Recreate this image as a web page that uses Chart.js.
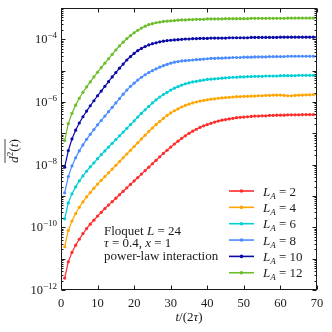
<!DOCTYPE html>
<html><head><meta charset="utf-8">
<script src="https://cdn.jsdelivr.net/npm/chart.js@4.4.0/dist/chart.umd.min.js"></script>
<style>html,body{margin:0;padding:0;background:#fff}canvas{display:block}</style>
</head><body>
<canvas id="c" width="332" height="332"></canvas>
<script>
// ---- data ----
const timeSteps = [1,2,3,4,5,6,7,8,9,10,11,12,13,14,15,16,17,18,19,20,21,22,23,24,25,26,27,28,29,30,31,32,33,34,35,36,37,38,39,40,41,42,43,44,45,46,47,48,49,50,51,52,53,54,55,56,57,58,59,60,61,62,63,64,65,66,67,68,69,70];
const subsystemSizes = ['2','4','6','8','10','12'];
// values given as log10 of d^2(t)
const log10_LA2 = [-11.62,-11.10,-10.80,-10.57,-10.38,-10.20,-10.04,-9.90,-9.77,-9.64,-9.52,-9.40,-9.29,-9.18,-9.07,-8.96,-8.85,-8.74,-8.63,-8.52,-8.41,-8.30,-8.19,-8.08,-7.97,-7.86,-7.75,-7.64,-7.54,-7.44,-7.34,-7.25,-7.16,-7.08,-7.00,-6.93,-6.87,-6.81,-6.76,-6.72,-6.68,-6.64,-6.61,-6.58,-6.56,-6.54,-6.52,-6.50,-6.49,-6.48,-6.47,-6.46,-6.45,-6.45,-6.44,-6.44,-6.43,-6.43,-6.42,-6.42,-6.42,-6.41,-6.41,-6.41,-6.41,-6.40,-6.40,-6.40,-6.40,-6.40];
const log10_LA4 = [-10.62,-10.10,-9.80,-9.56,-9.36,-9.19,-9.03,-8.89,-8.75,-8.62,-8.50,-8.38,-8.26,-8.14,-8.02,-7.90,-7.78,-7.66,-7.54,-7.42,-7.30,-7.18,-7.06,-6.94,-6.83,-6.72,-6.62,-6.52,-6.43,-6.35,-6.28,-6.22,-6.16,-6.11,-6.07,-6.03,-6.00,-5.97,-5.95,-5.93,-5.91,-5.90,-5.88,-5.87,-5.86,-5.85,-5.84,-5.83,-5.83,-5.82,-5.82,-5.81,-5.81,-5.80,-5.80,-5.79,-5.79,-5.78,-5.78,-5.78,-5.79,-5.80,-5.80,-5.79,-5.78,-5.78,-5.77,-5.77,-5.76,-5.76];
const log10_LA6 = [-9.73,-9.22,-8.93,-8.71,-8.52,-8.36,-8.21,-8.07,-7.94,-7.81,-7.68,-7.56,-7.44,-7.32,-7.20,-7.08,-6.96,-6.84,-6.72,-6.60,-6.48,-6.36,-6.25,-6.14,-6.03,-5.93,-5.84,-5.76,-5.69,-5.62,-5.56,-5.51,-5.46,-5.42,-5.39,-5.36,-5.34,-5.32,-5.30,-5.28,-5.27,-5.26,-5.25,-5.24,-5.23,-5.22,-5.21,-5.21,-5.20,-5.20,-5.19,-5.19,-5.18,-5.18,-5.18,-5.17,-5.17,-5.17,-5.17,-5.16,-5.16,-5.16,-5.16,-5.16,-5.15,-5.15,-5.15,-5.15,-5.15,-5.15];
const log10_LA8 = [-8.90,-8.38,-8.04,-7.78,-7.56,-7.37,-7.19,-7.03,-6.88,-6.73,-6.59,-6.45,-6.31,-6.17,-6.03,-5.89,-5.75,-5.62,-5.50,-5.40,-5.30,-5.21,-5.13,-5.06,-5.00,-4.94,-4.89,-4.84,-4.80,-4.76,-4.73,-4.71,-4.69,-4.68,-4.67,-4.66,-4.65,-4.64,-4.63,-4.62,-4.61,-4.61,-4.60,-4.60,-4.59,-4.59,-4.58,-4.58,-4.58,-4.57,-4.57,-4.57,-4.56,-4.56,-4.56,-4.56,-4.55,-4.55,-4.55,-4.55,-4.55,-4.54,-4.54,-4.54,-4.54,-4.54,-4.54,-4.54,-4.54,-4.54];
const log10_LA10 = [-8.08,-7.55,-7.18,-6.90,-6.67,-6.47,-6.29,-6.12,-5.96,-5.80,-5.65,-5.50,-5.35,-5.20,-5.06,-4.92,-4.79,-4.66,-4.55,-4.45,-4.36,-4.29,-4.23,-4.18,-4.14,-4.11,-4.08,-4.06,-4.04,-4.03,-4.02,-4.01,-4.00,-3.99,-3.99,-3.98,-3.98,-3.97,-3.97,-3.97,-3.96,-3.96,-3.96,-3.96,-3.96,-3.95,-3.95,-3.95,-3.95,-3.95,-3.95,-3.94,-3.94,-3.94,-3.94,-3.94,-3.94,-3.94,-3.94,-3.93,-3.93,-3.93,-3.93,-3.93,-3.93,-3.93,-3.93,-3.93,-3.93,-3.93];
const log10_LA12 = [-7.23,-6.69,-6.36,-6.10,-5.88,-5.69,-5.52,-5.36,-5.20,-5.05,-4.90,-4.76,-4.62,-4.48,-4.34,-4.21,-4.09,-3.98,-3.88,-3.79,-3.71,-3.64,-3.58,-3.53,-3.50,-3.47,-3.45,-3.43,-3.42,-3.41,-3.40,-3.39,-3.38,-3.38,-3.37,-3.37,-3.36,-3.36,-3.36,-3.35,-3.35,-3.35,-3.35,-3.35,-3.34,-3.34,-3.34,-3.34,-3.34,-3.34,-3.34,-3.33,-3.33,-3.33,-3.33,-3.33,-3.33,-3.33,-3.33,-3.33,-3.33,-3.32,-3.32,-3.32,-3.32,-3.32,-3.32,-3.32,-3.32,-3.32];
const xTickValues = [0,10,20,30,40,50,60,70];
const yLabelExponents = [-12,-10,-8,-6,-4];
const annotationLines = ['Floquet L = 24','τ = 0.4, x = 1','power-law interaction'];

const seriesLogs = [log10_LA2, log10_LA4, log10_LA6, log10_LA8, log10_LA10, log10_LA12];
const seriesColors = ['#ff2a2a','#ffa500','#00cfd4','#4a8cff','#0a0aa8','#6cbd2a'];

const SERIF = '"Liberation Serif","DejaVu Serif",serif';
const INK = '#1a1a1a';

function runs(ctx, parts, x, y, draw, base){
  const b = base || 12;
  let w = 0;
  for (const p of parts){ ctx.font = (p.it?'italic ':'') + (p.sz||b) + 'px ' + SERIF; w += ctx.measureText(p.t).width; }
  if (!draw) return w;
  let cx = x;
  for (const p of parts){ ctx.font = (p.it?'italic ':'') + (p.sz||b) + 'px ' + SERIF; ctx.fillText(p.t, cx, y + (p.dy||0)); cx += ctx.measureText(p.t).width; }
  return w;
}

const deco = {
  id: 'deco',
  afterDraw(chart){
    const {ctx, chartArea: a, scales: {x, y}} = chart;
    ctx.save();
    ctx.strokeStyle = INK; ctx.fillStyle = INK; ctx.lineWidth = 1;
    const L = Math.round(a.left)+0.5, R = Math.round(a.right)-0.5, T = Math.round(a.top)+0.5, B = Math.round(a.bottom)-0.5;
    ctx.strokeRect(L, T, R-L, B-T);
    ctx.beginPath();
    for (const v of xTickValues){
      const px = Math.round(x.getPixelForValue(v))+0.5;
      ctx.moveTo(px, B); ctx.lineTo(px, B-4);
      ctx.moveTo(px, T); ctx.lineTo(px, T+4);
    }
    for (let e = -12; e <= -3; e++){
      const py = Math.round(y.getPixelForValue(Math.pow(10, e)))+0.5;
      ctx.moveTo(L, py); ctx.lineTo(L+4, py);
      ctx.moveTo(R, py); ctx.lineTo(R-4, py);
      if (e < -3){
        for (let k = 2; k <= 9; k++){
          const pm = Math.round(y.getPixelForValue(k*Math.pow(10, e)))+0.5;
          ctx.moveTo(L, pm); ctx.lineTo(L+2, pm);
          ctx.moveTo(R, pm); ctx.lineTo(R-2, pm);
        }
      }
    }
    ctx.stroke();
    ctx.textBaseline = 'alphabetic'; ctx.textAlign = 'left';
    for (const e of yLabelExponents){
      const py = y.getPixelForValue(Math.pow(10, e));
      const parts = [{t:'10', sz:12.5}, {t:'−'+Math.abs(e), sz:9, dy:-5}];
      const w = runs(ctx, parts, 0, 0, false);
      runs(ctx, parts, a.left - 4 - w, py + 4, true);
    }
    const xt = [{t:'t', it:true},{t:'/(2'},{t:'τ', it:true},{t:')'}];
    const xw = runs(ctx, xt, 0, 0, false, 13);
    runs(ctx, xt, (a.left+a.right)/2 - xw/2, 321, true, 13);
    ctx.save();
    ctx.translate(18, (a.top+a.bottom)/2 + 2);
    ctx.rotate(-Math.PI/2);
    const yt = [{t:'d', it:true},{t:'2', sz:9, dy:-5},{t:'('},{t:'t', it:true},{t:')'}];
    const yw = runs(ctx, yt, 0, 0, false, 13.5);
    runs(ctx, yt, -yw/2, 0, true, 13.5);
    ctx.beginPath(); ctx.lineWidth = 0.8;
    ctx.moveTo(-yw/2, -13); ctx.lineTo(yw/2, -13); ctx.stroke();
    ctx.restore();
    const ann = [
      [{t:'Floquet '},{t:'L', it:true},{t:' = 24'}],
      [{t:'τ', it:true},{t:' = 0.4, '},{t:'x', it:true},{t:' = 1'}],
      [{t:annotationLines[2]}]
    ];
    ann.forEach((parts, i) => runs(ctx, parts, 104, 234.5 + i*12.5, true, 13));
    chart.data.datasets.forEach((ds, i) => {
      const cy = 191 + i*16.35;
      ctx.strokeStyle = ds.borderColor; ctx.lineWidth = 1.6;
      ctx.beginPath(); ctx.moveTo(229, cy); ctx.lineTo(254, cy); ctx.stroke();
      ctx.fillStyle = ds.borderColor;
      ctx.beginPath(); ctx.arc(241.5, cy, 1.8, 0, Math.PI*2); ctx.fill();
      ctx.fillStyle = INK;
      runs(ctx, [{t:'L', it:true},{t:'A', it:true, sz:9, dy:3},{t:' = ' + subsystemSizes[i]}], 263, cy + 4.5, true, 13);
    });
    ctx.restore();
  }
};

const datasets = seriesLogs.map((logs, i) => ({
  label: 'L_A = ' + subsystemSizes[i],
  data: timeSteps.map((t, j) => ({x: t, y: Math.pow(10, logs[j])})),
  borderColor: seriesColors[i],
  backgroundColor: seriesColors[i],
  borderWidth: 1.2,
  pointRadius: 1.6,
  pointBorderWidth: 0,
  tension: 0
}));

new Chart(document.getElementById('c'), {
  type: 'line',
  data: { datasets },
  options: {
    responsive: false, animation: false, devicePixelRatio: 1,
    layout: { padding: { top: 8, right: 15, left: 0, bottom: 0 } },
    plugins: { legend: { display: false }, tooltip: { enabled: false } },
    scales: {
      x: {
        type: 'linear', min: 0, max: 70,
        afterBuildTicks(s){ s.ticks = xTickValues.map(v => ({value: v})); },
        afterFit(s){ s.height = 42; },
        grid: { display: false, drawTicks: false }, border: { display: false },
        ticks: { font: { family: SERIF, size: 12.5 }, color: INK, padding: 6, maxRotation: 0, autoSkip: false }
      },
      y: {
        type: 'logarithmic', min: 1e-12, max: 1e-3,
        afterBuildTicks(s){ s.ticks = yLabelExponents.map(e => ({value: Math.pow(10, e)})); },
        afterFit(s){ s.width = 61; },
        grid: { display: false, drawTicks: false }, border: { display: false },
        ticks: { display: false }
      }
    }
  },
  plugins: [deco]
});
</script>
</body></html>
